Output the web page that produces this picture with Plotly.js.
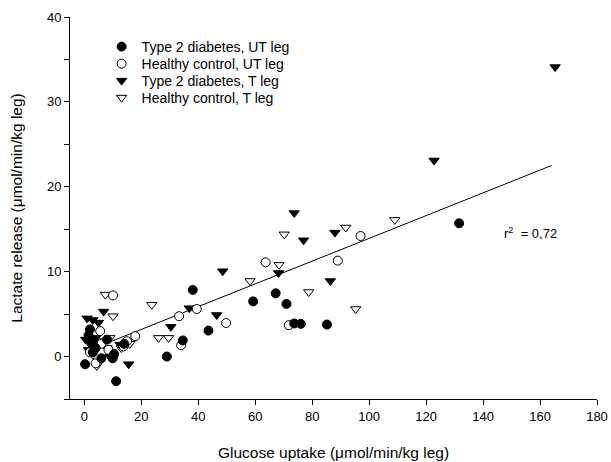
<!DOCTYPE html>
<html>
<head>
<meta charset="utf-8">
<script src="https://cdn.plot.ly/plotly-3.0.1.min.js"></script>
<style>html,body{margin:0;padding:0;background:#fff;}#chart{width:611px;height:462px;}</style>
</head>
<body>
<div id="chart"></div>
<script>
// Type 2 diabetes, UT leg (filled circles)
const t2dUtX = [0.3, 2, 1.5, 3, 4, 6, 8, 10, 10.5, 11.2, 29, 3, 14, 34.6, 38.1, 43.6, 59.3, 67.2, 71, 73.7, 76, 85.2, 131.6];
const t2dUtY = [-0.9, 3.2, 2.5, 0.5, 1.0, -0.2, 2.0, -0.2, 0.3, -2.9, 0, 1.8, 1.5, 1.9, 7.85, 3.06, 6.5, 7.45, 6.2, 3.9, 3.85, 3.77, 15.7];
// Healthy control, UT leg (open circles)
const hcUtX = [10.1, 5.6, 17.9, 8.5, 13.8, 15, 4, 2, 6, 33.3, 34, 39.5, 49.8, 63.7, 71.8, 89, 97];
const hcUtY = [7.2, 3.0, 2.4, 0.8, 1.2, 1.8, -0.8, 0.5, 1.5, 4.75, 1.33, 5.6, 3.95, 11.1, 3.7, 11.3, 14.2];
// Type 2 diabetes, T leg (filled triangles)
const t2dTX = [6.8, 1, 3, 5, 0.5, 2, 1.5, 4, 8, 12.6, 15.6, 9, 30.4, 36.9, 46.5, 48.6, 68.2, 73.7, 77, 86.4, 88, 122.8, 165.3];
const t2dTY = [5.3, 4.5, 4.3, 4.0, 2.0, 1.5, 0.8, 2.2, 1.0, 1.4, -0.9, 0, 3.5, 5.7, 4.9, 10.05, 9.85, 16.9, 13.7, 8.9, 14.6, 23.1, 34.1];
// Healthy control, T leg (open triangles)
const hcTX = [7.4, 10.1, 23.7, 4.4, 13, 6, 3, 9, 16, 26.1, 29.6, 58.2, 68.4, 70.2, 78.8, 91.8, 95.3, 109];
const hcTY = [7.3, 4.75, 6.1, -1.1, 1.0, 1.8, 0.2, 2.2, 1.5, 2.2, 2.2, 8.9, 10.8, 14.4, 7.6, 15.2, 5.6, 16.1];
// Regression line end points
const fitX = [1, 164];
const fitY = [0.65, 22.5];
const seriesNames = ["Type 2 diabetes, UT leg", "Healthy control, UT leg", "Type 2 diabetes, T leg", "Healthy control, T leg"];
const xTicks = [0, 20, 40, 60, 80, 100, 120, 140, 160, 180];
const yTicks = [0, 10, 20, 30, 40];

const font = {family: 'Liberation Sans, Arial, sans-serif', color: '#000'};
const traces = [
  {x: fitX, y: fitY, mode: 'lines', line: {color: '#000', width: 1}, showlegend: false, hoverinfo: 'skip'},
  {x: hcTX, y: hcTY, mode: 'markers', name: seriesNames[3], legend: 'legend4', marker: {symbol: 'triangle-down', size: 9, color: '#fff', line: {color: '#000', width: 1}}},
  {x: t2dTX, y: t2dTY, mode: 'markers', name: seriesNames[2], legend: 'legend3', marker: {symbol: 'triangle-down', size: 9, color: '#000', line: {color: '#000', width: 1}}},
  {x: hcUtX, y: hcUtY, mode: 'markers', name: seriesNames[1], legend: 'legend2', marker: {symbol: 'circle', size: 9, color: '#fff', line: {color: '#000', width: 1}}},
  {x: t2dUtX, y: t2dUtY, mode: 'markers', name: seriesNames[0], legend: 'legend', marker: {symbol: 'circle', size: 9, color: '#000', line: {color: '#000', width: 1}}}
];

// legend row centres in pixels: 47, 64, 81, 98 -> paper coords
const rowPx = [47, 64, 81, 98];
const legFor = (py) => ({x: 0.06, y: 1 - (py - 17) / 382, xanchor: 'left', yanchor: 'middle', bgcolor: 'rgba(0,0,0,0)', font: Object.assign({size: 14}, font)});

const layout = {
  width: 611, height: 462,
  margin: {l: 70, r: 14, t: 17, b: 63},
  paper_bgcolor: '#fff', plot_bgcolor: '#fff',
  font: Object.assign({size: 13}, font),
  showlegend: true,
  legend: legFor(rowPx[0]),
  legend2: legFor(rowPx[1]),
  legend3: legFor(rowPx[2]),
  legend4: legFor(rowPx[3]),
  xaxis: {
    range: [-5, 180], showline: true, linecolor: '#000', linewidth: 1, mirror: false,
    showgrid: false, zeroline: false, ticks: 'outside', ticklen: 5, tickcolor: '#000',
    tickvals: xTicks, ticktext: xTicks.map(String), tickfont: Object.assign({size: 13}, font),
    title: {text: 'Glucose uptake (μmol/min/kg leg)', font: Object.assign({size: 15.5}, font), standoff: 24}
  },
  yaxis: {
    range: [-5, 40], showline: true, linecolor: '#000', linewidth: 1, mirror: false,
    showgrid: false, zeroline: false, ticks: 'outside', ticklen: 5, tickcolor: '#000',
    tickvals: yTicks, ticktext: yTicks.map(String), tickfont: Object.assign({size: 13}, font),
    minor: {tickvals: [-5, 5, 15, 25, 35], ticks: 'outside', ticklen: 5, tickcolor: '#000', showgrid: false},
    title: {text: 'Lactate release (μmol/min/kg leg)', font: Object.assign({size: 15.5}, font), standoff: 20}
  },
  annotations: [
    {x: 156.5, y: 14.6, xref: 'x', yref: 'y', text: 'r<sup>2</sup>  = 0,72', showarrow: false, font: Object.assign({size: 13}, font)}
  ]
};
Plotly.newPlot('chart', traces, layout, {displayModeBar: false, staticPlot: true});
</script>
</body>
</html>
